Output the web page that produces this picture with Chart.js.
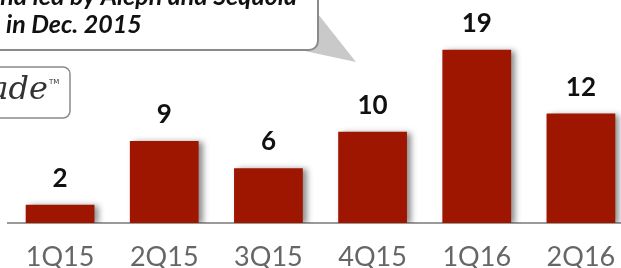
<!DOCTYPE html>
<html>
<head>
<meta charset="utf-8">
<script src="https://cdn.jsdelivr.net/npm/chart.js@4.4.1/dist/chart.umd.min.js"></script>
<style>
  html, body { margin: 0; padding: 0; background: #fff; overflow: hidden; }
  #wrap { position: relative; width: 640px; height: 268px; }
</style>
</head>
<body>
<div id="wrap"><canvas id="chart"></canvas></div>
<script>
// quarterly values
var quarters = ['1Q15', '2Q15', '3Q15', '4Q15', '1Q16', '2Q16'];
var counts = [2, 9, 6, 10, 19, 12];
var calloutLines = ['Round led by Aleph and Sequoia', 'in Dec. 2015'];
var logoText = 'ade';

var barColor = '#9e1500';

// soft drop shadow behind the bars
var barShadow = {
    id: 'barShadow',
    beforeDatasetDraw: function (chart) {
        var ctx = chart.ctx;
        ctx.save();
        ctx.shadowColor = 'rgba(0,0,0,0.45)';
        ctx.shadowBlur = 6;
        ctx.shadowOffsetX = 4;
        ctx.shadowOffsetY = 1;
    },
    afterDatasetDraw: function (chart) {
        chart.ctx.restore();
    }
};

// numbers above the bars
var valueLabels = {
    id: 'valueLabels',
    afterDatasetsDraw: function (chart) {
        var ctx = chart.ctx;
        var meta = chart.getDatasetMeta(0);
        ctx.save();
        ctx.font = 'bold 26px Lato, "DejaVu Sans", sans-serif';
        ctx.fillStyle = '#111';
        ctx.textAlign = 'center';
        ctx.textBaseline = 'alphabetic';
        meta.data.forEach(function (bar, i) {
            ctx.fillText(String(counts[i]), bar.x, bar.y - 18);
        });
        ctx.restore();
    }
};

// speech bubble and the cut off logo box on the left
var decorations = {
    id: 'decorations',
    afterDraw: function (chart) {
        var ctx = chart.ctx;
        ctx.save();
        // tail
        ctx.fillStyle = '#c9c9c9';
        ctx.beginPath();
        ctx.moveTo(300, 50);
        ctx.lineTo(318, 14);
        ctx.lineTo(356, 62);
        ctx.closePath();
        ctx.fill();
        // bubble
        ctx.beginPath();
        ctx.roundRect(-20, -30, 338, 80, 9);
        ctx.fillStyle = '#fff';
        ctx.fill();
        ctx.lineWidth = 2;
        ctx.strokeStyle = '#8a8a8a';
        ctx.stroke();
        ctx.fillStyle = '#111';
        ctx.font = 'italic bold 25px Lato, "DejaVu Sans", sans-serif';
        ctx.textAlign = 'right';
        ctx.fillText(calloutLines[0], 297, 5);
        ctx.textAlign = 'left';
        ctx.fillText(calloutLines[1], 6, 33);

        // logo box
        ctx.beginPath();
        ctx.roundRect(-20, 67, 90, 51, 7);
        ctx.lineWidth = 1.5;
        ctx.strokeStyle = '#8a8a8a';
        ctx.stroke();
        ctx.fillStyle = '#333';
        ctx.font = 'italic 32px "DejaVu Serif", serif';
        ctx.textAlign = 'right';
        ctx.fillText(logoText, 48, 99);
        ctx.font = '7px "DejaVu Sans", sans-serif';
        ctx.textAlign = 'left';
        ctx.fillText('TM', 49, 84);
        ctx.restore();
    }
};

document.addEventListener('DOMContentLoaded', function () {
    var ctx = document.getElementById('chart');
    new Chart(ctx, {
        type: 'bar',
        data: {
            labels: quarters,
            datasets: [{
                data: counts,
                backgroundColor: barColor,
                borderWidth: 0,
                categoryPercentage: 1,
                barPercentage: 0.66
            }]
        },
        options: {
            responsive: true,
            maintainAspectRatio: false,
            animation: false,
            layout: {
                padding: { left: 8, right: 7, top: 4, bottom: 0 }
            },
            plugins: {
                legend: { display: false },
                tooltip: { enabled: false }
            },
            scales: {
                x: {
                    afterFit: function (axis) { axis.height = 45; },
                    grid: { display: false, drawTicks: false },
                    border: { display: true, color: '#9a9a9a', width: 2 },
                    ticks: {
                        color: '#666',
                        padding: 18,
                        font: { family: 'Lato, "DejaVu Sans", sans-serif', size: 27 }
                    }
                },
                y: {
                    display: false,
                    min: 0,
                    max: 24
                }
            }
        },
        plugins: [barShadow, valueLabels, decorations]
    });
});
</script>
</body>
</html>
